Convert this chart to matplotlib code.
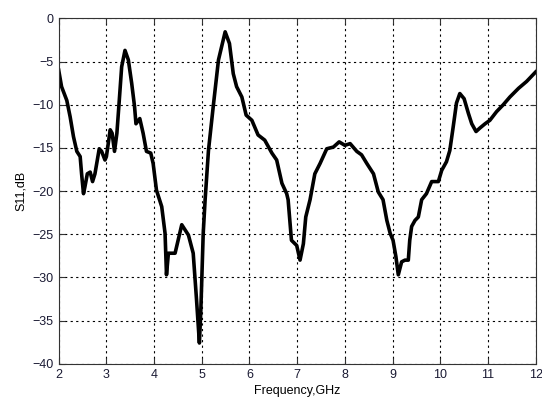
import numpy as np
import matplotlib.pyplot as plt

plt.rcParams['font.family'] = ['Liberation Sans', 'DejaVu Sans']

# measured return loss, frequency in GHz and S11 in dB
freq = [2.00, 2.06, 2.17, 2.24, 2.31, 2.38, 2.45, 2.48, 2.52, 2.55, 2.60, 2.66,
        2.71, 2.76, 2.85, 2.90, 2.97, 3.00, 3.08, 3.12, 3.17, 3.22, 3.27, 3.32,
        3.39, 3.46, 3.53, 3.59, 3.62, 3.70, 3.77, 3.84, 3.93, 3.98, 4.05, 4.16,
        4.23, 4.26, 4.30, 4.44, 4.58, 4.72, 4.82, 4.89, 4.95, 4.98, 5.03, 5.07,
        5.14, 5.24, 5.35, 5.49, 5.58, 5.66, 5.73, 5.84, 5.93, 6.05, 6.18, 6.32,
        6.47, 6.57, 6.68, 6.78, 6.81, 6.88, 6.99, 7.06, 7.13, 7.18, 7.27, 7.37,
        7.48, 7.62, 7.76, 7.88, 8.00, 8.11, 8.25, 8.35, 8.46, 8.60, 8.70, 8.80,
        8.88, 8.95, 9.01, 9.07, 9.12, 9.19, 9.26, 9.33, 9.36, 9.40, 9.47, 9.54,
        9.61, 9.71, 9.82, 9.96, 10.03, 10.13, 10.20, 10.27, 10.34, 10.41, 10.50,
        10.59, 10.66, 10.75, 10.83, 10.94, 11.04, 11.18, 11.32, 11.46, 11.64,
        11.81, 12.00]
s11 = [-6.0, -7.9, -9.5, -11.4, -13.7, -15.4, -16.0, -18.0, -20.3, -19.5, -18.0, -17.8,
       -18.9, -18.0, -15.1, -15.4, -16.4, -16.0, -12.9, -13.3, -15.4, -13.3, -9.5, -5.6,
       -3.7, -4.8, -7.5, -10.2, -12.2, -11.6, -13.3, -15.4, -15.6, -16.8, -19.9, -21.8,
       -24.9, -29.7, -27.2, -27.2, -23.9, -25.1, -27.2, -32.6, -37.6, -33.8, -24.9, -21.0,
       -15.3, -10.2, -4.8, -1.55, -2.9, -6.4, -7.9, -9.1, -11.2, -11.8, -13.5, -14.1,
       -15.6, -16.4, -19.1, -20.3, -21.0, -25.7, -26.3, -28.0, -26.1, -23.0, -21.0, -18.0,
       -16.8, -15.1, -14.9, -14.3, -14.7, -14.5, -15.4, -15.8, -16.8, -18.0, -20.1, -21.0,
       -23.4, -24.9, -25.7, -27.6, -29.7, -28.2, -28.0, -28.0, -25.7, -24.1, -23.4, -23.0,
       -21.0, -20.3, -18.9, -18.9, -17.6, -16.6, -15.3, -12.6, -9.8, -8.7, -9.3,
       -11.0, -12.2, -13.1, -12.7, -12.2, -11.8, -10.8, -10.0, -9.1, -8.1,
       -7.3, -6.2]

xticks = list(range(2, 13))
yticks = list(range(-40, 1, 5))

fig = plt.figure(figsize=(5.42, 4.01), dpi=100)
ax = fig.add_axes([0.1083, 0.093, 0.880, 0.861])

ax.plot(freq, s11, color='black', linewidth=2.6, solid_joinstyle='round')

ax.set_xlim(2, 12)
ax.set_ylim(-40, 0)
ax.set_xticks(xticks)
ax.set_yticks(yticks)
ax.grid(True, color='black', linestyle=(0, (2, 3)), linewidth=0.8)
ax.tick_params(direction='in', length=4, labelsize=9, top=True, right=True,
               colors='#333333', labelcolor='#1a1a33')
for sp in ax.spines.values():
    sp.set_color('#333333')
    sp.set_linewidth(0.8)

ax.set_xlabel('Frequency,GHz', fontsize=9, labelpad=3)
ax.set_ylabel('S11,dB', fontsize=9, labelpad=4)

fig.savefig('out.png', dpi=100)
